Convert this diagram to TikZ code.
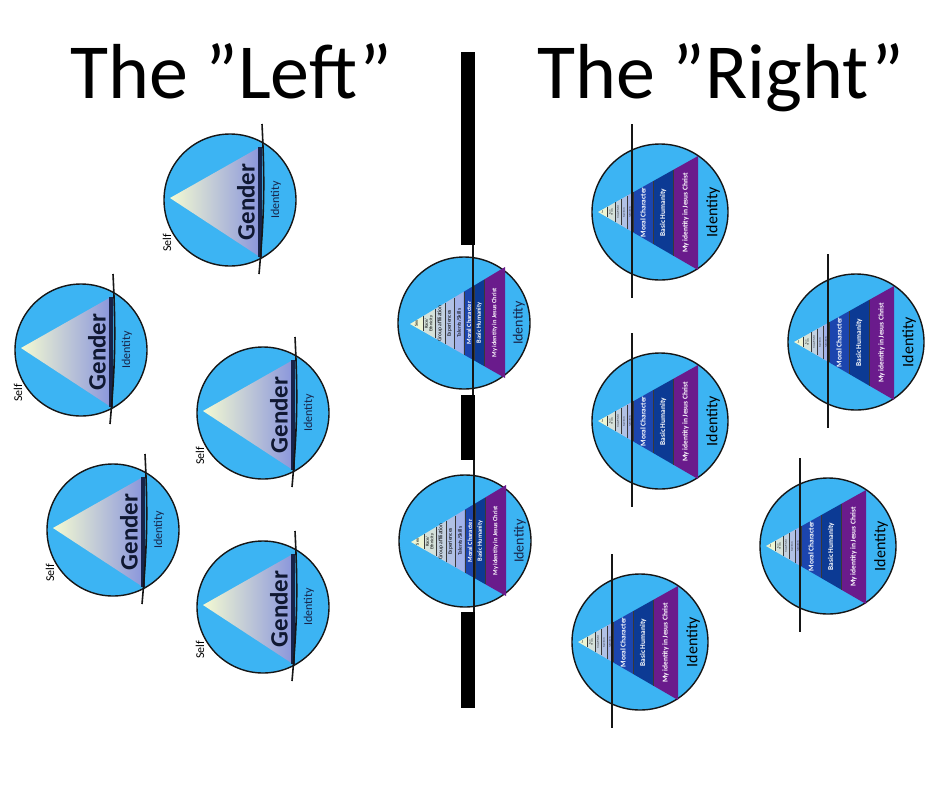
\documentclass[tikz,border=0pt]{standalone}
\usepackage{fontspec}
\setmainfont{Carlito}
\usetikzlibrary{calc}
\definecolor{dkSky}  {HTML}{3CB4F3}
\definecolor{dkLine} {HTML}{161616}
\definecolor{dkNavy} {HTML}{172348}
\definecolor{dkPale} {HTML}{F4FAD2}
\definecolor{dkMid}  {HTML}{BCC8E2}
\definecolor{dkLav}  {HTML}{8A96DC}
\definecolor{dkSex}  {HTML}{EEF5D3}
\definecolor{dkRace} {HTML}{D5E2DA}
\definecolor{dkGroup}{HTML}{C3D1E0}
\definecolor{dkExp}  {HTML}{B1C1E5}
\definecolor{dkTal}  {HTML}{A2B2EA}
\definecolor{dkMoral}{HTML}{1C45AE}
\definecolor{dkHuman}{HTML}{0C3A94}
\definecolor{dkFaith}{HTML}{6A1B8C}
% triangle geometry: apex x, apex y, base x, base top y, base bottom y
\newcommand{\dkgeom}[5]{\def\pax{#1}\def\pay{#2}\def\pbx{#3}\def\ptop{#4}\def\pbot{#5}}
\newcommand{\dkband}[3]{%
  \fill[#3] ({(\pax)+#1*((\pbx)-(\pax))},{(\pay)+#1*((\ptop)-(\pay))})
    -- ({(\pax)+#2*((\pbx)-(\pax))},{(\pay)+#2*((\ptop)-(\pay))})
    -- ({(\pax)+#2*((\pbx)-(\pax))},{(\pay)+#2*((\pbot)-(\pay))})
    -- ({(\pax)+#1*((\pbx)-(\pax))},{(\pay)+#1*((\pbot)-(\pay))}) -- cycle;
  \draw[dksep] ({(\pax)+#1*((\pbx)-(\pax))},{(\pay)+#1*((\ptop)-(\pay))})
    -- ({(\pax)+#1*((\pbx)-(\pax))},{(\pay)+#1*((\pbot)-(\pay))});}
\newcommand{\dklabel}[5]{%
  \node[dklab,#4] (#1) at ({(\pax)+(#2+#3)/2*((\pbx)-(\pax))},
    {(\pay)+(#2+#3)/2*(((\ptop)+(\pbot))/2-(\pay))}) {#5};}
\tikzset{
  dkdisk/.style={fill=dkSky, draw=dkLine, line width=1.4pt},
  dkcut/.style={draw=dkLine, line width=1.6pt},
  dksep/.style={draw=dkLine!85, line width=0.6pt},
  dkbar/.style={fill=black},
  dktitle/.style={font=\fontsize{78}{90}\selectfont, anchor=base west, inner sep=0pt},
  dkself/.style={font=\fontsize{12}{14}\selectfont, rotate=90, inner sep=0pt},
  dkid/.style={rotate=90, text=dkNavy, inner sep=0pt},
  dkgender/.style={font=\bfseries\fontsize{25}{28}\selectfont, rotate=90,
                   text=dkNavy!70!black, inner sep=0pt},
  dklab/.style={rotate=90, inner sep=0pt, align=center},
  dklight/.style={font=\fontsize{5.5}{5.5}\selectfont, text=black},
  dktiny/.style={font=\fontsize{2}{2}\selectfont, text=black},
  dkdark/.style={font=\bfseries\fontsize{6.4}{6.4}\selectfont, text=white},
  dkbig/.style={font=\bfseries\fontsize{7.4}{8}\selectfont, text=white},
  % left side: one wedge only
  genderdisk/.pic={
    \path[dkdisk] (0,0) circle[radius=66pt];
    \shade[left color=dkPale, middle color=dkMid, right color=dkLav]
      (-60,-2) -- (30,-53) -- (30,57) -- cycle;
    \draw[line width=4pt, dkNavy] (30,-53) -- (30,57);
    \draw[dkcut] (32,-76) to[bend left=4] (29,74);
    \node[dkgender] (-gender) at (16,2) {Gender};
    \node[dkid, font=\fontsize{12}{14}\selectfont] (-id) at (46,0) {Identity};
    \node[dkself] (-self) at (-63,43) {Self};
  },
  % middle: all layers equal
  groupdisk/.pic={
    \path[dkdisk] (0,0) circle[radius=66pt];
    \dkgeom{-54}{1}{41}{-56}{55}
    \dkband{0}{.137}{dkSex}
    \dkband{.137}{.263}{dkRace}
    \dkband{.263}{.368}{dkGroup}
    \dkband{.368}{.463}{dkExp}
    \dkband{.463}{.568}{dkTal}
    \dkband{.568}{.674}{dkMoral}
    \dkband{.674}{.779}{dkHuman}
    \dkband{.779}{1}{dkFaith}
    \dklabel{-sex}{0}{.137}{dklight, font=\fontsize{4.5}{4.5}\selectfont}{Sex}
    \dklabel{-race}{.137}{.263}{dklight, font=\fontsize{4.5}{4.5}\selectfont}{Race/\\Ethnicity}
    \dklabel{-group}{.263}{.368}{dklight}{Group affiliation}
    \dklabel{-exp}{.368}{.463}{dklight}{Experiences}
    \dklabel{-tal}{.463}{.568}{dklight}{Talents/Skills}
    \dklabel{-moral}{.568}{.674}{dkdark}{Moral Character}
    \dklabel{-human}{.674}{.779}{dkdark}{Basic Humanity}
    \dklabel{-faith}{.779}{1}{dkdark}{My identity in Jesus Christ}
    \node[dkid, font=\fontsize{14}{16}\selectfont] (-id) at (55,0) {Identity};
    \draw[dkcut] (9,-84) -- (9,74);
  },
  % right side: faith layers widened
  faithdisk/.pic={
    \path[dkdisk] (0,0) circle[radius=68pt];
    \dkgeom{-62}{0}{38}{-56}{58}
    \dkband{0}{.09}{dkSex}
    \dkband{.09}{.17}{dkRace}
    \dkband{.17}{.23}{dkGroup}
    \dkband{.23}{.29}{dkExp}
    \dkband{.29}{.35}{dkTal}
    \dkband{.35}{.55}{dkMoral}
    \dkband{.55}{.75}{dkHuman}
    \dkband{.75}{1}{dkFaith}
    \dklabel{-sex}{0}{.09}{dktiny}{Sex}
    \dklabel{-race}{.09}{.17}{dktiny}{Race/\\Ethnicity}
    \dklabel{-group}{.17}{.23}{dktiny}{Group affiliation}
    \dklabel{-exp}{.23}{.29}{dktiny}{Experiences}
    \dklabel{-tal}{.29}{.35}{dktiny}{Talents/Skills}
    \dklabel{-moral}{.35}{.55}{dkbig}{Moral Character}
    \dklabel{-human}{.55}{.75}{dkbig}{Basic Humanity}
    \dklabel{-faith}{.75}{1}{dkbig}{My identity in Jesus Christ}
    \node[dkid, text=black, font=\fontsize{16}{18}\selectfont] (-id) at (53,0) {Identity};
    \draw[dkcut] (-28,-88) -- (-28,86);
  },
}
\begin{document}
\begin{tikzpicture}[x=1pt,y=-1pt]
  \useasboundingbox (0,0) rectangle (940,788);
  \fill[white] (0,0) rectangle (940,788);
  \node[dktitle] (lefttitle) at (70,98) {The ”Left”};
  \node[dktitle] (righttitle) at (537,98) {The ”Right”};
  % left
  \pic (g1) at (230,200) {genderdisk};
  \pic (g2) at (81,350) {genderdisk};
  \pic (g3) at (263,413) {genderdisk};
  \pic (g4) at (113,530) {genderdisk};
  \pic (g5) at (263,607) {genderdisk};
  % middle
  \pic (m1) at (464,323) {groupdisk};
  \pic (m2) at (465,541) {groupdisk};
  \fill[dkbar] (461,52) rectangle (475,245);
  \fill[dkbar] (461,395) rectangle (475,460);
  \fill[dkbar] (461,612) rectangle (475,708);
  % right
  \pic (r1) at (660,212) {faithdisk};
  \pic (r2) at (856,342) {faithdisk};
  \pic (r3) at (660,421) {faithdisk};
  \pic (r4) at (828,546) {faithdisk};
  \pic (r5) at (640,642) {faithdisk};
\end{tikzpicture}
\end{document}
